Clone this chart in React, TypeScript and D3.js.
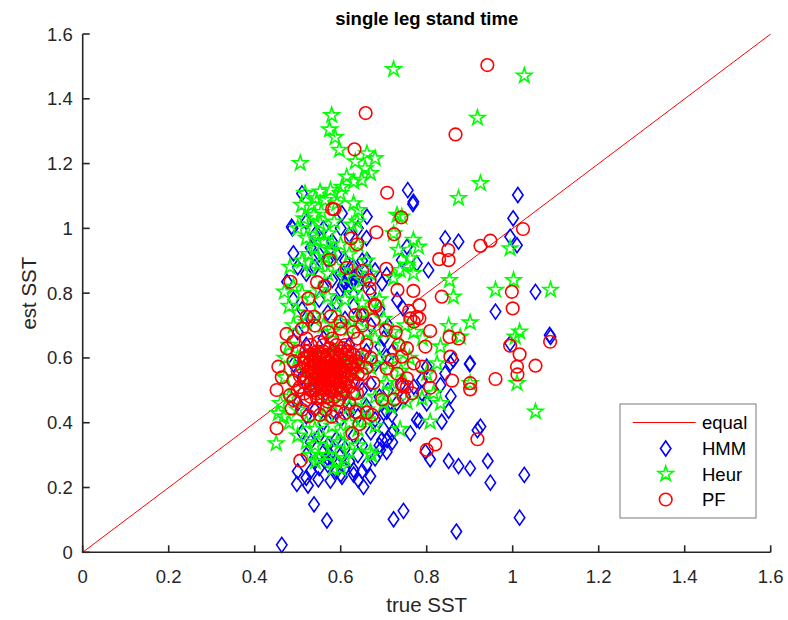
import React from "react";
import * as d3 from "d3";

const W = 788;
const H = 620;

const xTicks = [0, 0.2, 0.4, 0.6, 0.8, 1, 1.2, 1.4, 1.6];
const yTicks = [0, 0.2, 0.4, 0.6, 0.8, 1, 1.2, 1.4, 1.6];
const tickLabels = ["0", "0.2", "0.4", "0.6", "0.8", "1", "1.2", "1.4", "1.6"];
const legendLabels = ["equal", "HMM", "Heur", "PF"];
const titleText = "single leg stand time";
const xLabel = "true SST";
const yLabel = "est SST";

// HMM estimates [trueSST, estSST]
const hmmPoints: [number, number][] = [
  [0.756,1.118],[0.769,1.082],[1.012,1.103],[1.001,1.031],[0.51,1.108],[0.486,1.005],[0.603,1.046],[0.661,1.036],
  [0.768,1.075],[0.488,1.0],[0.49,0.923],[0.475,0.835],[0.994,0.974],[1.01,0.948],[0.843,0.969],[0.874,0.959],
  [0.804,0.871],[0.777,0.892],[1.053,0.804],[0.96,0.743],[0.754,0.943],[0.742,0.902],[0.661,0.902],[0.696,0.83],
  [0.707,0.856],[0.745,0.753],[0.731,0.779],[1.088,0.665],[0.994,0.645],[0.901,0.583],[0.862,0.594],[0.832,0.516],
  [0.789,0.532],[0.8,0.573],[0.707,0.604],[0.692,0.635],
  [0.463,0.023],[0.538,0.148],[0.568,0.098],[0.498,0.211],[0.524,0.206],[0.548,0.225],[0.576,0.221],[0.603,0.233],
  [0.653,0.202],[0.669,0.235],[0.641,0.223],[0.63,0.254],[0.723,0.102],[0.746,0.128],[0.869,0.064],[1.016,0.107],
  [1.027,0.239],[0.948,0.215],[0.942,0.282],[0.901,0.259],[0.874,0.266],[0.851,0.282],[0.808,0.287],[0.797,0.31],
  [0.925,0.388],[0.918,0.377],[0.851,0.437],[0.835,0.403],[0.783,0.405],[0.762,0.367],[0.719,0.424],[0.719,0.367],
  [0.707,0.31],[0.696,0.347],[0.856,0.482],[0.9,0.581],[1.086,0.671],[0.855,0.583],[0.843,0.552],[0.789,0.491],
  [0.77,0.511],[0.8,0.46],[0.777,0.409],[0.707,0.434],[0.723,0.377],[0.708,0.346],[0.692,0.316],
  [0.52,1.02],[0.54,0.98],[0.56,1.0],[0.58,0.96],[0.6,1.0],[0.62,0.98],[0.64,1.0],[0.66,0.97],[0.53,0.94],
  [0.55,0.92],[0.57,0.9],[0.59,0.92],[0.61,0.9],[0.63,0.88],[0.65,0.9],[0.5,0.88],[0.52,0.86],[0.54,0.88],
  [0.6,0.86],[0.62,0.85],[0.63,0.84],[0.61,0.83],[0.64,0.86],[0.62,0.82],[0.6,0.81],[0.64,0.82],[0.58,0.84],
  [0.56,0.82],[0.66,0.84],[0.68,0.87],[0.67,0.8],[0.615,0.845],[0.625,0.835],[0.605,0.825],[0.635,0.855],
  [0.49,0.78],[0.51,0.75],[0.53,0.72],[0.55,0.78],[0.57,0.74],[0.59,0.77],[0.61,0.72],[0.63,0.76],[0.65,0.73],
  [0.67,0.7],[0.69,0.75],[0.5,0.68],[0.52,0.64],[0.54,0.6],[0.56,0.66],[0.58,0.62],[0.6,0.58],[0.62,0.64],
  [0.64,0.6],[0.66,0.62],[0.68,0.58],[0.7,0.66],[0.72,0.62],[0.71,0.7],[0.49,0.58],[0.51,0.54],[0.53,0.5],
  [0.55,0.52],[0.57,0.48],[0.59,0.52],[0.61,0.49],[0.63,0.53],[0.65,0.5],[0.67,0.52],[0.69,0.48],[0.71,0.5],
  [0.73,0.46],[0.5,0.46],[0.52,0.42],[0.54,0.44],[0.56,0.4],[0.58,0.43],[0.6,0.41],[0.62,0.44],[0.64,0.42],
  [0.66,0.45],[0.68,0.41],[0.7,0.43],[0.74,0.52],[0.75,0.48],
  [0.51,0.37],[0.53,0.34],[0.55,0.36],[0.57,0.33],[0.59,0.35],[0.61,0.32],[0.63,0.36],[0.65,0.33],[0.67,0.37],
  [0.52,0.3],[0.54,0.28],[0.56,0.31],[0.58,0.29],[0.6,0.3],[0.62,0.28],[0.64,0.3],[0.66,0.27],[0.68,0.29],
  [0.55,0.26],[0.57,0.27],[0.59,0.25],[0.61,0.26],[0.565,0.285],[0.57,0.29],[0.575,0.3],[0.53,0.25],[0.5,0.25],
  [0.52,0.23],[0.6,0.24],[0.63,0.24],[0.65,0.25],[0.69,0.33],[0.7,0.38],[0.72,0.34]
];

// Heuristic estimates
const heurPoints: [number, number][] = [
  [0.723,1.491],[1.027,1.471],[0.918,1.341],[0.579,1.349],[0.574,1.305],[0.587,1.281],[0.597,1.242],[0.506,1.201],
  [0.661,1.231],[0.68,1.216],[0.634,1.206],[0.657,1.185],[0.669,1.17],[0.614,1.159],[0.63,1.144],[0.649,1.149],
  [0.603,1.128],[0.925,1.139],[0.874,1.093],[0.517,1.108],[0.552,1.113],[0.576,1.118],[0.599,1.108],[0.541,1.093],
  [0.564,1.087],[0.509,1.072],[0.533,1.072],[0.591,1.077],[0.63,1.077],[0.641,1.056],[0.537,1.041],[0.626,1.011],
  [0.742,1.036],[0.731,1.041],[0.552,1.015],[0.572,0.984],[0.545,0.964],[0.576,0.933],[0.638,1.02],[0.723,0.984],
  [0.769,0.964],[0.781,0.943],[0.754,0.887],[0.738,0.871],[0.762,0.907],[0.734,0.933],[0.723,0.846],[0.769,0.861],
  [0.482,0.881],[0.469,0.804],[0.994,0.938],[0.853,0.84],[0.862,0.789],[0.96,0.81],[1.002,0.84],[1.088,0.81],
  [0.851,0.698],[0.901,0.709],[0.878,0.665],[1.016,0.681],[1.006,0.665],[1.01,0.522],[0.824,0.583],[0.8,0.552],
  [0.832,0.635],[1.053,0.434],[0.45,0.336],[0.455,0.429],[0.467,0.419],[0.738,0.38],[0.808,0.403],[0.832,0.46],
  [0.816,0.491],[0.672,0.3],[0.669,0.31],[0.583,0.259],[0.541,0.28],[0.707,0.522],[0.716,0.449],[0.754,0.465],
  [0.789,0.475],[0.901,0.522],
  [0.5,1.0],[0.52,0.97],[0.54,0.94],[0.56,0.96],[0.58,0.93],[0.6,0.95],[0.62,0.92],[0.64,0.95],[0.66,0.9],
  [0.51,0.9],[0.53,0.87],[0.55,0.89],[0.57,0.86],[0.59,0.88],[0.61,0.85],[0.63,0.87],[0.65,0.84],[0.67,0.86],
  [0.49,0.82],[0.51,0.8],[0.53,0.78],[0.55,0.81],[0.57,0.79],[0.59,0.76],[0.61,0.78],[0.63,0.8],[0.65,0.77],
  [0.67,0.75],[0.69,0.78],[0.7,0.72],[0.5,0.74],[0.52,0.71],[0.54,0.73],[0.56,0.7],[0.58,0.68],[0.6,0.71],
  [0.62,0.69],[0.64,0.72],[0.66,0.68],[0.68,0.66],[0.72,0.68],[0.74,0.64],[0.76,0.6],[0.48,0.64],[0.5,0.6],
  [0.52,0.56],[0.54,0.52],[0.56,0.5],[0.58,0.46],[0.6,0.48],[0.62,0.45],[0.64,0.47],[0.66,0.44],[0.68,0.48],
  [0.7,0.46],[0.72,0.5],[0.74,0.56],[0.47,0.54],[0.48,0.48],[0.5,0.44],[0.52,0.4],[0.54,0.38],[0.56,0.42],
  [0.58,0.39],[0.6,0.37],[0.62,0.4],[0.64,0.38],[0.66,0.41],[0.68,0.39],[0.5,0.36],[0.52,0.34],[0.54,0.33],
  [0.56,0.35],[0.58,0.32],[0.6,0.34],[0.62,0.31],[0.64,0.33],[0.53,0.3],[0.55,0.29],[0.57,0.3],[0.59,0.28],
  [0.61,0.29],[0.6,0.26],[0.48,0.4],[0.46,0.46],[0.47,0.6],[0.49,0.7],[0.48,0.76],[0.55,0.6],[0.57,0.56],
  [0.59,0.62],[0.61,0.58],[0.63,0.55],[0.65,0.6],[0.67,0.57],[0.69,0.6],[0.71,0.56],[0.73,0.6],[0.75,0.7],
  [0.77,0.68],[0.79,0.66],[0.535,1.0],[0.555,1.05],[0.515,1.03],[0.585,1.02],[0.565,0.91],[0.525,0.92]
];

// Particle filter estimates
const pfPoints: [number, number][] = [
  [0.941,1.504],[0.658,1.356],[0.867,1.29],[0.632,1.244],[0.708,1.11],[0.58,1.06],[0.585,1.059],[0.741,1.034],
  [1.024,0.998],[0.683,0.988],[0.724,0.982],[0.624,0.969],[0.638,0.951],[0.925,0.946],[0.948,0.962],[0.85,0.933],
  [0.829,0.905],[0.851,0.902],[0.574,0.903],[0.614,0.878],[0.65,0.869],[0.706,0.875],[0.483,0.835],[0.545,0.834],
  [0.563,0.822],[0.667,0.84],[0.667,0.815],[0.525,0.784],[0.732,0.81],[0.769,0.807],[0.835,0.789],[0.998,0.804],
  [1.0,0.753],[0.679,0.765],[0.681,0.76],[0.783,0.763],[0.759,0.745],[0.762,0.722],[0.783,0.722],[0.77,0.712],
  [0.777,0.727],[0.521,0.727],[0.538,0.727],[0.577,0.729],[0.599,0.712],[0.634,0.732],[0.651,0.732],[0.676,0.717],
  [0.474,0.674],[0.475,0.63],[0.705,0.686],[0.728,0.679],[0.808,0.683],[0.853,0.665],[0.874,0.66],[0.994,0.638],
  [1.016,0.611],[1.087,0.65],[1.053,0.576],[1.01,0.573],[1.011,0.549],[0.96,0.535],[0.901,0.522],[0.901,0.503],
  [0.859,0.53],[0.855,0.604],[0.797,0.635],[0.808,0.544],[0.808,0.508],[0.735,0.64],[0.754,0.63],[0.742,0.604],
  [0.77,0.583],[0.789,0.573],[0.719,0.594],[0.707,0.568],[0.731,0.552],[0.754,0.537],[0.746,0.511],[0.766,0.491],
  [0.451,0.501],[0.463,0.54],[0.455,0.573],[0.451,0.383],[0.506,0.283],[0.627,0.367],[0.644,0.396],[0.634,0.434],
  [0.661,0.432],[0.673,0.424],[0.638,0.491],[0.696,0.472],[0.724,0.472],[0.746,0.48],[0.754,0.511],[0.742,0.519],
  [0.8,0.316],[0.82,0.333],[0.918,0.349],[0.676,0.523],[0.552,0.424],[0.525,0.421],[0.579,0.419],[0.486,0.444],
  [0.482,0.485],
  [0.51,0.69],[0.54,0.7],[0.57,0.68],[0.6,0.69],[0.63,0.68],[0.65,0.7],
  [0.49,0.65],[0.52,0.66],[0.55,0.65],[0.58,0.66],[0.61,0.64],[0.64,0.66],[0.66,0.64],
  [0.5,0.62],[0.53,0.61],[0.56,0.62],[0.59,0.61],[0.62,0.62],[0.65,0.61],[0.67,0.6],
  [0.49,0.59],[0.515,0.585],[0.54,0.59],[0.565,0.595],[0.59,0.58],[0.615,0.59],[0.64,0.58],[0.66,0.57],
  [0.5,0.56],[0.525,0.555],[0.55,0.565],[0.575,0.56],[0.6,0.555],[0.625,0.565],[0.65,0.55],
  [0.49,0.53],[0.515,0.525],[0.54,0.535],[0.565,0.53],[0.59,0.525],[0.615,0.535],[0.64,0.52],
  [0.5,0.5],[0.53,0.5],[0.555,0.505],[0.58,0.495],[0.605,0.5],[0.63,0.49],
  [0.49,0.47],[0.52,0.47],[0.545,0.475],[0.57,0.465],[0.595,0.47],[0.62,0.46],
  [0.51,0.44],[0.54,0.445],[0.565,0.44],[0.59,0.435],[0.61,0.43],
  [0.55,0.55],[0.56,0.54],[0.57,0.56],[0.58,0.55],[0.56,0.57],[0.57,0.53],[0.58,0.57],[0.59,0.56],[0.55,0.58],
  [0.56,0.52],[0.57,0.51],[0.58,0.52],[0.59,0.54],[0.6,0.53],[0.6,0.57],[0.61,0.56],[0.54,0.56],[0.53,0.57],
  [0.545,0.51],[0.55,0.6],[0.56,0.6],[0.57,0.59],[0.58,0.6],[0.59,0.59],[0.6,0.6],[0.61,0.61],[0.62,0.58],
  [0.63,0.57],[0.62,0.55],[0.565,0.55],[0.575,0.545],[0.585,0.565],[0.555,0.535],[0.545,0.545],[0.535,0.555],
  [0.525,0.58],[0.535,0.6],[0.52,0.6],[0.53,0.52],[0.54,0.5],[0.555,0.48],[0.57,0.48],[0.585,0.48],[0.6,0.49],
  [0.505,0.545],[0.51,0.57],[0.515,0.6],[0.52,0.62],[0.53,0.64],[0.545,0.62],[0.56,0.64],[0.575,0.63],
  [0.59,0.64],[0.605,0.63],[0.62,0.6],[0.63,0.61],[0.635,0.59],[0.64,0.55],[0.63,0.53],[0.62,0.51],
  [0.61,0.52],[0.6,0.51],[0.59,0.5],[0.575,0.5],[0.56,0.49],[0.545,0.49],[0.53,0.48],[0.515,0.49],
  [0.505,0.51],[0.52,0.54],[0.53,0.59],[0.54,0.58],[0.55,0.57],[0.56,0.56],[0.57,0.57],[0.58,0.58],
  [0.59,0.57],[0.6,0.56],[0.61,0.55],[0.6,0.54],[0.59,0.53],[0.58,0.53],[0.57,0.54],[0.56,0.55],
  [0.55,0.54],[0.54,0.54],[0.55,0.52],[0.565,0.515],[0.58,0.51],[0.595,0.515],[0.61,0.575],[0.625,0.585],
  [0.57,0.61],[0.585,0.615],[0.555,0.61],[0.54,0.61],[0.6,0.62],[0.615,0.62],[0.565,0.575],[0.575,0.585]
];

const FONT = "'Liberation Sans', Arial, Helvetica, sans-serif";
const AXIS_COLOR = "#262626";

function diamondPath(cx: number, cy: number, hw = 5.2, hh = 7.5) {
  return `M${cx},${cy - hh}L${cx + hw},${cy}L${cx},${cy + hh}L${cx - hw},${cy}Z`;
}

function starPath(cx: number, cy: number, R = 8) {
  const r = R * 0.382;
  const pts: string[] = [];
  for (let i = 0; i < 10; i++) {
    const a = -Math.PI / 2 + (i * Math.PI) / 5;
    const rad = i % 2 === 0 ? R : r;
    pts.push(`${(cx + rad * Math.cos(a)).toFixed(2)},${(cy + rad * Math.sin(a)).toFixed(2)}`);
  }
  return "M" + pts.join("L") + "Z";
}

export default function App() {
  const x = d3.scaleLinear().domain([0, 1.6]).range([82.7, 770.7]);
  const y = d3.scaleLinear().domain([0, 1.6]).range([552.3, 34]);
  const x0 = x(0);
  const y0 = y(0);

  const legX = 620, legY = 404, legW = 136, legH = 114;
  const rowY = [422.5, 448.5, 474, 499.5];

  return (
    <svg
      width={W}
      height={H}
      style={{ position: "absolute", left: 0, top: 0, background: "#fff" }}
      fontFamily={FONT}
    >
      <rect x={0} y={0} width={W} height={H} fill="#fff" />
      {/* equal line */}
      <line x1={x(0)} y1={y(0)} x2={x(1.6)} y2={y(1.6)} stroke="#ff0000" strokeWidth={1} />
      {/* HMM */}
      <g fill="none" stroke="#0000ff" strokeWidth={1.6}>
        {hmmPoints.map((p, i) => (
          <path key={i} d={diamondPath(x(p[0]), y(p[1]))} />
        ))}
      </g>
      {/* Heur */}
      <g fill="none" stroke="#00ff00" strokeWidth={1.6} strokeLinejoin="miter">
        {heurPoints.map((p, i) => (
          <path key={i} d={starPath(x(p[0]), y(p[1]))} />
        ))}
      </g>
      {/* PF */}
      <g fill="none" stroke="#ff0000" strokeWidth={1.6}>
        {pfPoints.map((p, i) => (
          <circle key={i} cx={x(p[0])} cy={y(p[1])} r={6.3} />
        ))}
      </g>

      {/* axes */}
      <g stroke={AXIS_COLOR} strokeWidth={1.6} fill="none">
        <line x1={x0} y1={y(1.6)} x2={x0} y2={y0 + 0.8} />
        <line x1={x0 - 0.8} y1={y0} x2={x(1.6)} y2={y0} />
        {xTicks.map((t, i) => (
          <line key={"xt" + i} x1={x(t)} y1={y0} x2={x(t)} y2={y0 - 7} />
        ))}
        {yTicks.map((t, i) => (
          <line key={"yt" + i} x1={x0} y1={y(t)} x2={x0 + 7} y2={y(t)} />
        ))}
      </g>
      <g fill={AXIS_COLOR} fontSize={18.5}>
        {xTicks.map((t, i) => (
          <text key={"xl" + i} x={x(t)} y={y0 + 31} textAnchor="middle">
            {tickLabels[i]}
          </text>
        ))}
        {yTicks.map((t, i) => (
          <text key={"yl" + i} x={x0 - 10} y={y(t) + 6.5} textAnchor="end">
            {tickLabels[i]}
          </text>
        ))}
      </g>
      <text x={(x(0) + x(1.6)) / 2} y={612} textAnchor="middle" fontSize={20.5} fill={AXIS_COLOR}>
        {xLabel}
      </text>
      <text
        transform={`translate(36,${(y(0) + y(1.6)) / 2}) rotate(-90)`}
        textAnchor="middle"
        fontSize={20.5}
        fill={AXIS_COLOR}
      >
        {yLabel}
      </text>
      <text
        x={(x(0) + x(1.6)) / 2}
        y={25}
        textAnchor="middle"
        fontSize={18.5}
        fontWeight="bold"
        fill="#000"
      >
        {titleText}
      </text>

      {/* legend */}
      <rect x={legX} y={legY} width={legW} height={legH} fill="#fff" stroke="#7a7a7a" strokeWidth={1} />
      <line x1={632.7} y1={rowY[0]} x2={695.7} y2={rowY[0]} stroke="#ff0000" strokeWidth={1} />
      <path d={diamondPath(665.7, rowY[1])} fill="none" stroke="#0000ff" strokeWidth={1.6} />
      <path d={starPath(665.7, rowY[2])} fill="none" stroke="#00ff00" strokeWidth={1.6} />
      <circle cx={665.7} cy={rowY[3]} r={6.3} fill="none" stroke="#ff0000" strokeWidth={1.6} />
      <g fontSize={18.5} fill="#000">
        {legendLabels.map((l, i) => (
          <text key={l} x={702} y={rowY[i] + 6.5}>
            {l}
          </text>
        ))}
      </g>
    </svg>
  );
}
